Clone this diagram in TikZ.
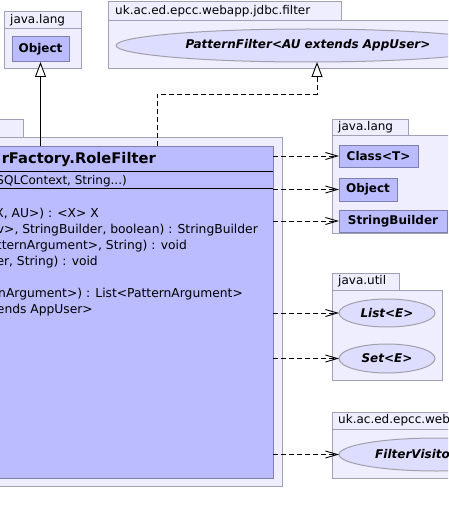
\documentclass[tikz,border=0pt]{standalone}
\usepackage{fontspec}
\setmainfont{DejaVu Sans}
\usetikzlibrary{arrows.meta,shapes.geometric}
\definecolor{pkgfill}{RGB}{238,238,255}
\definecolor{pkgline}{RGB}{160,160,184}
\definecolor{clsfill}{RGB}{187,187,255}
\definecolor{clsline}{RGB}{128,128,176}
\definecolor{ellfill}{RGB}{221,221,255}
\definecolor{ellline}{RGB}{160,160,170}
\begin{document}
\begin{tikzpicture}[x=1pt,y=-1pt,
  pkg/.style={rectangle, draw=pkgline, fill=pkgfill, line width=1pt, inner sep=0pt, outer sep=0pt},
  tabtxt/.style={anchor=west, inner sep=0pt, font=\fontsize{12}{14}\selectfont},
  cls/.style={rectangle, draw=clsline, fill=clsfill, line width=1pt, inner sep=0pt, outer sep=0pt, font=\fontsize{12}{14}\selectfont\bfseries},
  iface/.style={ellipse, draw=ellline, fill=ellfill, line width=1pt, inner sep=0pt, outer sep=0pt, font=\fontsize{12}{14}\selectfont\bfseries\itshape},
  itxt/.style={inner sep=0pt, font=\fontsize{12}{14}\selectfont\bfseries\itshape},
  mtxt/.style={anchor=base east, inner sep=0pt, font=\fontsize{12.3}{14}\selectfont},
  sepline/.style={draw=black, line width=1pt},
  dep/.style={draw=black, line width=0.9pt, dash pattern=on 5pt off 3pt, -{Straight Barb[length=12pt,width=7pt,line width=0.9pt]}},
  gen/.style={draw=black, line width=0.9pt, -{Triangle[open,fill=white,length=15pt,width=11pt,line width=0.9pt]}},
  gendash/.style={gen, dash pattern=on 5pt off 3pt}
]
\useasboundingbox (0,0) rectangle (448,524);
\clip (0,0) rectangle (448,524);

% top-left package java.lang
\node[pkg, minimum width=77pt, minimum height=40pt] (jlA) at (42.5,49) {};
\node[pkg, minimum width=77pt, minimum height=17pt] (jlAtab) at (42.5,20.5) {};
\node[tabtxt] (jlAlbl) at (10,20.5) {java.lang};
\node[cls, minimum width=57pt, minimum height=25pt] (objA) at (40.5,49.5) {Object};

% package uk.ac.ed.epcc.webapp.jdbc.filter (top)
\node[pkg, minimum width=362pt, minimum height=48pt] (ukA) at (289,45) {};
\node[pkg, minimum width=233pt, minimum height=19pt] (ukAtab) at (224.5,11.5) {};
\node[tabtxt] (ukAlbl) at (115,11.5) {uk.ac.ed.epcc.webapp.jdbc.filter};
\node[iface, minimum width=384pt, minimum height=33pt] (pf) at (308,45.5) {PatternFilter<AU extends AppUser>};

% left package with the class
\node[pkg, minimum width=532pt, minimum height=349pt] (lp) at (16,311.5) {};
\node[pkg, minimum width=73pt, minimum height=18pt] (lptab) at (-13.5,128) {};
\node[cls, minimum width=513pt, minimum height=332pt] (rf) at (16.5,312) {};
\coordinate (s1) at (0,171);
\coordinate (s2) at (0,188);
\draw[sepline] (rf.west |- s1) -- (rf.east |- s1);
\draw[sepline] (rf.west |- s2) -- (rf.east |- s2);
\node[anchor=base east, inner sep=0pt, font=\fontsize{14.7}{17}\selectfont\bfseries] (ttl) at (156,163.4) {rFactory.RoleFilter};
\node[mtxt, font=\fontsize{12}{14}\selectfont] (ctor) at (127,184.4) {SQLContext, String...)};
\node[mtxt] (m1) at (99,217.4) {X, AU>) : <X> X};
\node[mtxt] (m2) at (258,233.4) {v>, StringBuilder, boolean) : StringBuilder};
\node[mtxt] (m3) at (187,249.4) {tternArgument>, String) : void};
\node[mtxt] (m4) at (98,265.4) {er, String) : void};
\node[mtxt] (m5) at (243,297.4) {nArgument>) : List<PatternArgument>};
\node[mtxt] (m6) at (93,313.4) {ends AppUser>};

% right package java.lang
\node[pkg, minimum width=122pt, minimum height=98pt] (jlB) at (393,184) {};
\node[pkg, minimum width=76pt, minimum height=16pt] (jlBtab) at (370,127) {};
\node[tabtxt] (jlBlbl) at (338,127) {java.lang};
\node[cls, minimum width=79pt, minimum height=22pt] (clsT) at (378.5,156) {Class<T>};
\node[cls, minimum width=58pt, minimum height=23pt] (objB) at (368,189.5) {Object};
\node[cls, minimum width=108pt, minimum height=22pt] (sb) at (393,221) {StringBuilder};

% java.util
\node[pkg, minimum width=110pt, minimum height=90pt] (ju) at (387,335) {};
\node[pkg, minimum width=67pt, minimum height=17pt] (jutab) at (365.5,281.5) {};
\node[tabtxt] (julbl) at (338,281.5) {java.util};
\node[iface, minimum width=96pt, minimum height=28pt] (listE) at (387,313) {List<E>};
\node[iface, minimum width=96pt, minimum height=29pt] (setE) at (387,358.5) {Set<E>};

% bottom package uk.ac.ed.epcc.webapp...
\node[pkg, minimum width=208pt, minimum height=49pt] (ukB) at (436,453.5) {};
\node[pkg, minimum width=208pt, minimum height=17pt] (ukBtab) at (436,420.5) {};
\node[tabtxt] (ukBlbl) at (338,420.5) {uk.ac.ed.epcc.webapp.jdbc.filter};
\node[iface, minimum width=195pt, minimum height=33pt] (fv) at (436.5,454.5) {};
\node[itxt, anchor=west] (fvlbl) at (375,454.5) {FilterVisitor};

% connectors
\draw[gen] (rf.north -| objA) -- (objA.south);
\coordinate (pfb) at (157,94);
\coordinate (pftip) at (317,62);
\draw[gendash] (rf.north -| pfb) -- (pfb) -- (pfb -| pftip) -- (pftip);
\draw[dep] (rf.east |- clsT) -- (clsT.west);
\draw[dep] (rf.east |- objB) -- (objB.west);
\draw[dep] (rf.east |- sb) -- (sb.west);
\draw[dep] (rf.east |- listE) -- (listE.west);
\draw[dep] (rf.east |- setE) -- (setE.west);
\draw[dep] (rf.east |- fv) -- (fv.west);
\end{tikzpicture}
\end{document}
